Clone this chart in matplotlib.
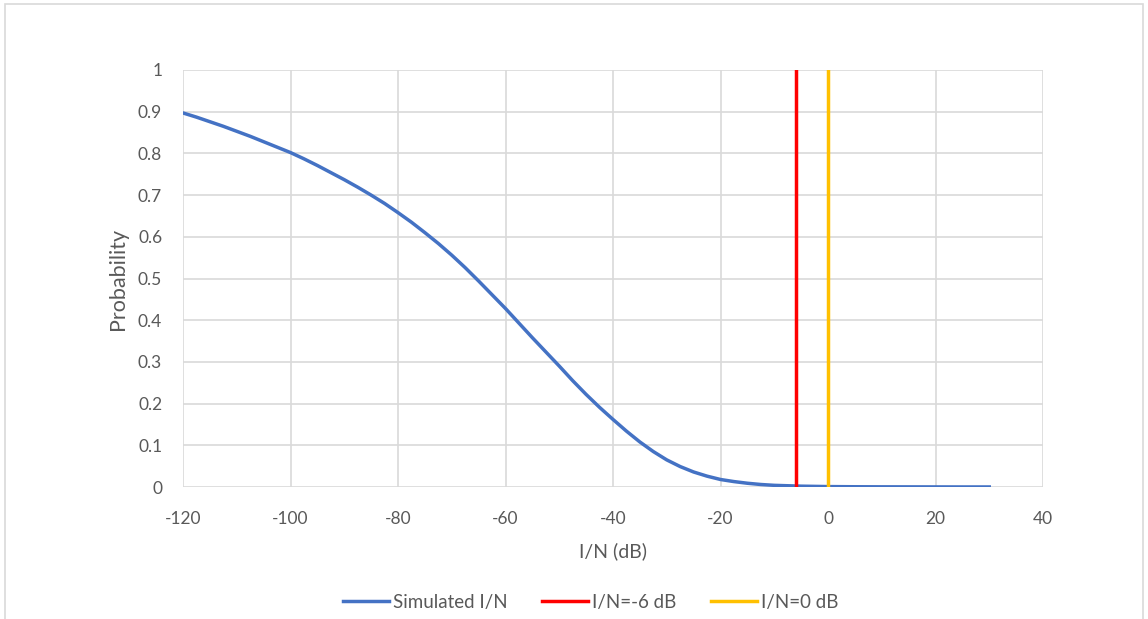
import matplotlib.pyplot as plt
from matplotlib.patches import Rectangle

# I/N (dB) and simulated probability
in_db = [-120, -117.5, -115, -112.5, -110, -107.5, -105, -102.5, -100, -97.5,
         -95, -92.5, -90, -87.5, -85, -82.5, -80, -77.5, -75, -72.5, -70,
         -67.5, -65, -62.5, -60, -57.5, -55, -52.5, -50, -47.5, -45, -42.5,
         -40, -37.5, -35, -32.5, -30, -27.5, -25, -22.5, -20, -17.5, -15,
         -12.5, -10, -7.5, -5, -2.5, 0, 5, 10, 15, 20, 25, 30]
prob = [0.897, 0.887, 0.876, 0.865, 0.853, 0.841, 0.828, 0.815, 0.802, 0.787,
        0.771, 0.754, 0.737, 0.719, 0.700, 0.680, 0.658, 0.635, 0.610, 0.584,
        0.556, 0.526, 0.494, 0.461, 0.428, 0.393, 0.358, 0.324, 0.290, 0.255,
        0.222, 0.191, 0.162, 0.134, 0.108, 0.085, 0.065, 0.049, 0.036, 0.026,
        0.018, 0.013, 0.009, 0.006, 0.004, 0.003, 0.002, 0.0015, 0.001,
        0.0006, 0.0004, 0.0003, 0.0002, 0.0001, 0.0001]

# threshold lines
thr_x = [-6, 0]
thr_labels = ['I/N=-6 dB', 'I/N=0 dB']
thr_colors = ['#ff0000', '#ffc000']

x_ticks = [-120, -100, -80, -60, -40, -20, 0, 20, 40]
y_ticks = [0, 0.1, 0.2, 0.3, 0.4, 0.5, 0.6, 0.7, 0.8, 0.9, 1]

plt.rcParams['font.family'] = ['Lato', 'DejaVu Sans']
plt.rcParams['axes.unicode_minus'] = False
txt = '#595959'

fig = plt.figure(figsize=(11.48, 6.19), dpi=100)
fig.patches.append(Rectangle((5 / 1148, -0.1), 1138 / 1148, 1 - 4 / 619 + 0.1,
                             transform=fig.transFigure, fill=False,
                             edgecolor='#d9d9d9', linewidth=1.2))
ax = fig.add_axes([183 / 1148, 1 - 487 / 619, 860 / 1148, 417 / 619])

ax.plot(in_db, prob, color='#4472c4', linewidth=2.5, label='Simulated I/N',
        zorder=3, solid_joinstyle='round')
for xv, lab, col in zip(thr_x, thr_labels, thr_colors):
    ax.plot([xv, xv], [0, 1], color=col, linewidth=2.5, label=lab, zorder=4)

ax.set_xlim(-120, 40)
ax.set_ylim(0, 1)
ax.set_xticks(x_ticks)
ax.set_yticks(y_ticks)
ax.set_yticklabels(['0' if v == 0 else ('1' if v == 1 else f'{v:.1f}') for v in y_ticks])
ax.grid(True, color='#d9d9d9', linewidth=1.2)
ax.set_axisbelow(True)
for s in ax.spines.values():
    s.set_visible(False)
ax.tick_params(length=0, labelsize=12.5, colors=txt)
ax.tick_params(axis='x', pad=17)
ax.tick_params(axis='y', pad=15)

ax.set_xlabel('I/N (dB)', fontsize=14, color=txt, labelpad=11)
ax.set_ylabel('Probability', fontsize=15.5, color=txt, labelpad=7)

ax.legend(loc='upper center', bbox_to_anchor=(0.474, -0.215), ncol=3,
          frameon=False, fontsize=13.5, labelcolor=txt, handlelength=2.45,
          columnspacing=1.85, handletextpad=0.2)

fig.savefig('out.png', dpi=100)
